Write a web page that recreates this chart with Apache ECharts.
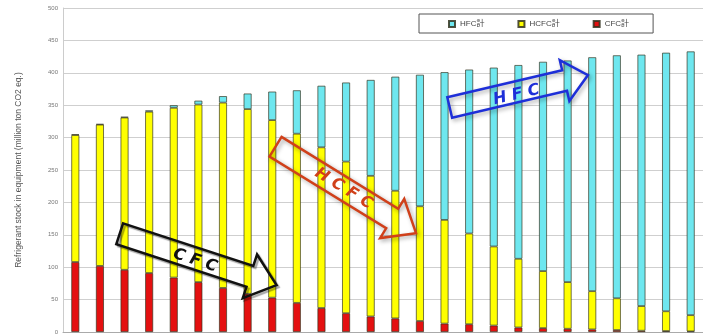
<!DOCTYPE html>
<html>
<head>
<meta charset="utf-8">
<script src="https://cdn.jsdelivr.net/npm/echarts@6/dist/echarts.min.js"></script>
<style>html,body{margin:0;padding:0;background:#fff;}#c{width:703px;height:336px;}</style>
</head>
<body>
<div id="c"></div>
<script>
const years = ['2005','2006','2007','2008','2009','2010','2011','2012','2013','2014','2015','2016','2017','2018','2019','2020','2021','2022','2023','2024','2025','2026','2027','2028','2029','2030'];
const cfc  = [108,102,96,91,84,77,68,59,53,45,37,29,24,21,17,13,12,10,7,6,5,4,3,2,1.5,1];
const hcfc = [196,218,235,249,262,274,286,285,274,261,248,234,217,197,177,160,140,122,106,88,72,59,49,38,30.5,25];
const hfc  = [1,1,1,2,4,6,10,24,44,67,95,122,148,176,203,228,253,276,299,323,342,361,375,388,399,407];
const yTicks = [0,50,100,150,200,250,300,350,400,450,500];
const seriesNames = ['HFC計','HCFC計','CFC計'];

function arrow(x0,y0,angDeg,len,th,hw,hl){
  const a=angDeg*Math.PI/180, ux=Math.cos(a), uy=Math.sin(a), nx=-uy, ny=ux;
  const loc=[[0,-th/2],[len-hl,-th/2],[len-hl,-hw/2],[len,0],[len-hl,hw/2],[len-hl,th/2],[0,th/2]];
  return loc.map(p=>[x0+p[0]*ux+p[1]*nx, y0+p[0]*uy+p[1]*ny]);
}
function arrowGraphic(x0,y0,ang,len,th,hw,hl,color,label,s,t,shadow){
  const a=ang*Math.PI/180;
  const cx=x0+s*Math.cos(a)-t*Math.sin(a), cy=y0+s*Math.sin(a)+t*Math.cos(a);
  return [
    {type:'polygon', shape:{points:arrow(x0,y0,ang,len,th,hw,hl)}, z:100,
     style:{fill:'rgba(0,0,0,0)', stroke:color, lineWidth:2.5, lineJoin:'miter', shadowBlur:shadow?4:1, shadowColor:'rgba(0,0,0,0.35)', shadowOffsetX:2, shadowOffsetY:2}},
    {type:'text', x:cx, y:cy, rotation:-a, z:101,
     style:{text:label, fill:color, fontSize:16, fontWeight:'bold', fontStyle:'italic', fontFamily:'DejaVu Sans', align:'center', verticalAlign:'middle'}}
  ];
}

const chart = echarts.init(document.getElementById('c'), null, {renderer:'canvas'});
const barBorder = {borderColor:'rgba(50,50,30,0.85)', borderWidth:0.8};
chart.setOption({
  animation:false,
  backgroundColor:'#fff',
  textStyle:{fontFamily:'Liberation Sans, "Noto Sans CJK JP", sans-serif'},
  grid:{left:63, top:8, width:646, height:324},
  legend:{
    data:seriesNames, left:419, top:14, orient:'horizontal',
    itemWidth:6, itemHeight:6, itemGap:33,
    padding:[6,24,5,29], borderColor:'#555', borderWidth:1, backgroundColor:'#fff',
    textStyle:{fontSize:8, color:'#444', fontFamily:'Liberation Sans, "Noto Sans CJK JP", sans-serif'},
    icon:'rect'
  },
  xAxis:{type:'category', data:years, axisLabel:{show:false}, axisTick:{show:false},
    axisLine:{lineStyle:{color:'#aaa'}}},
  yAxis:{type:'value', min:0, max:500, interval:50,
    name:'Refrigerant stock in equipment (million ton CO2 eq.)',
    nameLocation:'middle', nameGap:40, nameRotate:90,
    nameTextStyle:{fontSize:8.5, color:'#555'},
    axisLabel:{fontSize:6, color:'#777', margin:5, formatter:v=>yTicks.includes(v)?String(v):''},
    axisLine:{show:true, lineStyle:{color:'#ccc'}}, axisTick:{show:false},
    splitLine:{lineStyle:{color:'#cfcfcf', width:1}}},
  series:[
    {name:'CFC計', type:'bar', stack:'s', data:cfc, barWidth:8, itemStyle:Object.assign({color:'#E41010'},barBorder)},
    {name:'HCFC計', type:'bar', stack:'s', data:hcfc, barWidth:8, itemStyle:Object.assign({color:'#FFFF00'},barBorder)},
    {name:'HFC計', type:'bar', stack:'s', data:hfc, barWidth:8, itemStyle:Object.assign({color:'#6EE7EF'},barBorder)}
  ],
  graphic:[].concat(
    arrowGraphic(119.7,233.8,18.1,165,22,46,28,'#111','C F C',80,2,false),
    arrowGraphic(275.5,146.7,31.6,165,23,46,28,'#D0401A','H C F C',80,0,true),
    arrowGraphic(449.7,107.5,-13.2,142,21,42,24,'#1E2FD8','H F C',68,3,true)
  )
});
</script>
</body>
</html>
